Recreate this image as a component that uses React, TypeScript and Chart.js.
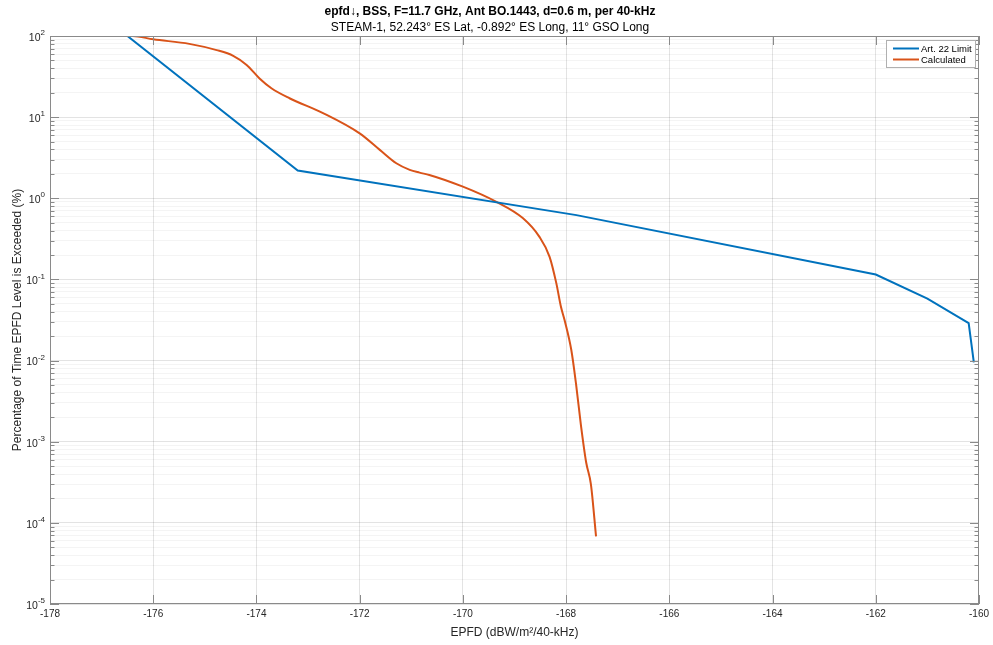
import React, { useEffect, useRef } from 'react';
import { Chart, registerables } from 'chart.js';

Chart.register(...registerables);

const FONT = '"Liberation Sans", Arial, Helvetica, sans-serif';
const TEXT = '#262626';
const AXIS = '#8a8a8a';
const GRID_MAJOR = 'rgba(38,38,38,0.13)';
const GRID_MINOR = 'rgba(38,38,38,0.05)';
const BLUE = '#0072BD';
const ORANGE = '#D95319';

const titleText = 'epfd\u2193, BSS, F=11.7 GHz, Ant BO.1443, d=0.6 m, per 40-kHz';
const subtitleText = 'STEAM-1, 52.243\u00b0 ES Lat, -0.892\u00b0 ES Long, 11\u00b0 GSO Long';
const xTitle = 'EPFD (dBW/m\u00b2/40-kHz)';
const yTitle = 'Percentage of Time EPFD Level is Exceeded (%)';
const seriesNames = ['Art. 22 Limit', 'Calculated'];

const xMin = -178;
const xMax = -160;
const xStep = 2;
const yDecades = [-5, -4, -3, -2, -1, 0, 1, 2];

const limitX = [-176.5, -173.2, -167.8, -162, -161, -160.2, -160.1];
const limitY = [100, 2.2, 0.62, 0.115, 0.058, 0.029, 0.0095];

const calcX = [
  -176.8, -176.4, -176.0, -175.3, -174.77, -174.45, -174.19, -173.94, -173.71, -173.36,
  -172.71, -172.0, -171.61, -171.29, -171.03, -170.84, -170.65, -170.0, -169.36, -168.84,
  -168.52, -168.32, -168.19, -168.1, -168.03, -167.9, -167.81, -167.71, -167.61, -167.52, -167.42,
];
const calcY = [
  100, 100, 91, 80, 67, 57, 44, 30, 22.7, 17.1,
  11.2, 6.3, 3.95, 2.7, 2.24, 2.07, 1.94, 1.39, 0.91, 0.57,
  0.337, 0.19, 0.09, 0.046, 0.0316, 0.0136, 0.0053, 0.00155, 0.00055, 0.0003, 6.8e-5,
];

const isDecade = (v: number) => Math.abs(Math.log10(v) - Math.round(Math.log10(v))) < 1e-9;

const overlay = {
  id: 'overlay',
  afterDatasetsDraw(chart: any) {
    const { ctx, chartArea: a, scales } = chart;
    const xs = scales.x;
    const ys = scales.y;
    ctx.save();
    ctx.strokeStyle = AXIS;
    ctx.lineWidth = 1;
    ctx.beginPath();
    for (let v = xMin; v <= xMax; v += xStep) {
      const px = Math.round(xs.getPixelForValue(v)) + 0.5;
      ctx.moveTo(px, a.bottom);
      ctx.lineTo(px, a.bottom - 9);
      ctx.moveTo(px, a.top);
      ctx.lineTo(px, a.top + 9);
    }
    for (let k = yDecades[0]; k < yDecades[yDecades.length - 1]; k++) {
      for (let m = 1; m <= 9; m++) {
        const v = m * Math.pow(10, k);
        const py = Math.round(ys.getPixelForValue(v)) + 0.5;
        const len = m === 1 ? 9 : 4.5;
        ctx.moveTo(a.left, py);
        ctx.lineTo(a.left + len, py);
        ctx.moveTo(a.right, py);
        ctx.lineTo(a.right - len, py);
      }
    }
    ctx.stroke();
    ctx.strokeRect(Math.round(a.left) + 0.5, Math.round(a.top) + 0.5, Math.round(a.right - a.left) - 1, Math.round(a.bottom - a.top) - 1);

    ctx.fillStyle = TEXT;
    ctx.textBaseline = 'middle';
    ctx.textAlign = 'right';
    for (const k of yDecades) {
      const py = ys.getPixelForValue(Math.pow(10, k));
      const exp = String(k);
      const right = a.left - 5;
      ctx.font = `8px ${FONT}`;
      const ew = ctx.measureText(exp).width;
      ctx.fillText(exp, right, py - 3);
      ctx.font = `10.5px ${FONT}`;
      ctx.fillText('10', right - ew, py + 2);
    }

    const lx = 886, ly = 40, lw = 89, lh = 27;
    ctx.fillStyle = '#fff';
    ctx.fillRect(lx, ly, lw, lh);
    ctx.strokeStyle = '#b0b0b0';
    ctx.lineWidth = 1;
    ctx.strokeRect(lx + 0.5, ly + 0.5, lw, lh);
    const colors = [BLUE, ORANGE];
    ctx.textAlign = 'left';
    ctx.font = `9.5px ${FONT}`;
    seriesNames.forEach((name, i) => {
      const yy = ly + 8.5 + i * 11;
      ctx.strokeStyle = colors[i];
      ctx.lineWidth = 2;
      ctx.beginPath();
      ctx.moveTo(893, yy);
      ctx.lineTo(919, yy);
      ctx.stroke();
      ctx.fillStyle = '#000';
      ctx.fillText(name, 921, yy + 0.5);
    });
    ctx.restore();
  },
};

export default function App() {
  const ref = useRef<HTMLCanvasElement>(null);
  useEffect(() => {
    Chart.defaults.font.family = FONT;
    const chart = new Chart(ref.current as HTMLCanvasElement, {
      type: 'line',
      data: {
        datasets: [
          {
            label: seriesNames[0],
            data: limitX.map((x, i) => ({ x, y: limitY[i] })),
            borderColor: BLUE,
            backgroundColor: BLUE,
            borderWidth: 2,
            pointRadius: 0,
            tension: 0,
          },
          {
            label: seriesNames[1],
            data: calcX.map((x, i) => ({ x, y: calcY[i] })),
            borderColor: ORANGE,
            backgroundColor: ORANGE,
            borderWidth: 2,
            pointRadius: 0,
            cubicInterpolationMode: 'monotone',
          },
        ],
      },
      options: {
        animation: false,
        responsive: true,
        maintainAspectRatio: false,
        devicePixelRatio: 1,
        layout: { padding: { left: 0, right: 13, top: 0, bottom: 0 } },
        plugins: {
          legend: { display: false },
          tooltip: { enabled: false },
          title: {
            display: true,
            text: titleText,
            color: '#000',
            font: { size: 12, weight: 'bold', family: FONT },
            padding: { top: 4, bottom: 2 },
          },
          subtitle: {
            display: true,
            text: subtitleText,
            color: '#000',
            font: { size: 12, family: FONT },
            padding: { top: 0, bottom: 1.2 },
          },
        },
        scales: {
          x: {
            type: 'linear',
            min: xMin,
            max: xMax,
            afterFit: (s: any) => { s.height = 41; },
            ticks: { stepSize: xStep, color: TEXT, font: { size: 10, family: FONT }, padding: 4, maxRotation: 0 },
            grid: { color: GRID_MAJOR, drawTicks: false },
            border: { display: false },
            title: { display: true, text: xTitle, color: TEXT, font: { size: 12, family: FONT }, padding: { top: 0, bottom: 5.5 } },
          },
          y: {
            type: 'logarithmic',
            min: 1e-5,
            max: 100,
            afterFit: (s: any) => { s.width = 50; },
            afterBuildTicks: (s: any) => {
              const t: any[] = [];
              for (let k = yDecades[0]; k < yDecades[yDecades.length - 1]; k++) {
                for (let m = 1; m <= 9; m++) t.push({ value: m * Math.pow(10, k) });
              }
              t.push({ value: Math.pow(10, yDecades[yDecades.length - 1]) });
              s.ticks = t;
            },
            ticks: { display: false },
            grid: {
              drawTicks: false,
              color: (c: any) => (c.tick && isDecade(c.tick.value) ? GRID_MAJOR : GRID_MINOR),
            },
            border: { display: false },
            title: { display: true, text: yTitle, color: TEXT, font: { size: 12, family: FONT }, padding: { top: 10, bottom: 0 } },
          },
        },
      },
      plugins: [overlay],
    } as any);
    return () => chart.destroy();
  }, []);
  return (
    <div style={{ position: 'fixed', left: 0, top: 0, width: 993, height: 645, background: '#fff' }}>
      <canvas ref={ref} />
    </div>
  );
}
